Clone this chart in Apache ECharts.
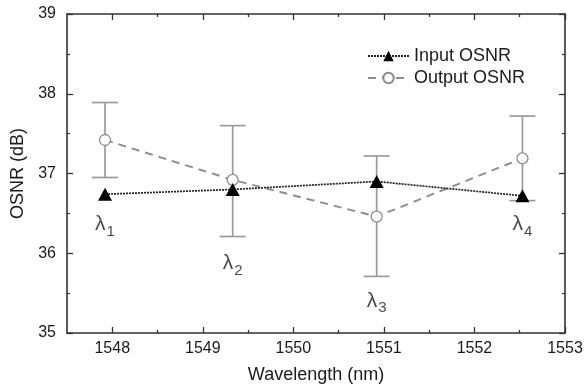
<!DOCTYPE html>
<html>
<head>
<meta charset="utf-8">
<script src="https://cdn.jsdelivr.net/npm/echarts@6/dist/echarts.min.js"></script>
<style>
  html, body { margin: 0; padding: 0; background: #fff; }
  #chart { width: 584px; height: 387px; }
</style>
</head>
<body>
<div id="chart"></div>
<script>
// values
const wavelengths = [1547.92, 1549.33, 1550.92, 1552.53];
const inputOsnr = [36.74, 36.80, 36.90, 36.72];
const outputOsnr = [37.42, 36.92, 36.46, 37.19];
const outputHigh = [37.89, 37.60, 37.22, 37.72];
const outputLow = [36.95, 36.21, 35.71, 36.66];
const channelIds = ['1', '2', '3', '4'];
const channelLabelY = [36.36, 35.87, 35.40, 36.36];
const xTicks = [1548, 1549, 1550, 1551, 1552, 1553];
const xMinorTicks = [1548.5, 1549.5, 1550.5, 1551.5, 1552.5];

const textColor = '#1a1a1a';
const axisColor = '#333';
const font = 'Liberation Sans, Arial, sans-serif';

const chart = echarts.init(document.getElementById('chart'));

const pairs = (xs, ys) => xs.map((x, i) => [x, ys[i]]);

const axisLine = { show: true, lineStyle: { color: axisColor, width: 1.6 } };
const majorTick = { show: true, inside: true, length: 6, lineStyle: { color: axisColor, width: 1.3 } };
const minorTick = { show: true, splitNumber: 2, length: 3, lineStyle: { color: axisColor, width: 1.3 } };

// one bare x axis per tick set (major / minor) at a given side
const xTickAxis = (position, values, length, withLine) => ({
  type: 'value', position: position, min: 1547.5, max: 1553,
  axisLine: withLine ? axisLine : { show: false },
  axisTick: Object.assign({}, majorTick, { length: length, customValues: values }),
  axisLabel: { show: false }, splitLine: { show: false }
});

const option = {
  animation: false,
  textStyle: { fontFamily: font },
  grid: { left: 67, right: 19, top: 14, bottom: 54, outerBoundsMode: 'none', containLabel: false },
  legend: {
    data: ['Input OSNR', 'Output OSNR'],
    orient: 'vertical',
    left: 362,
    top: 42,
    itemWidth: 41,
    itemHeight: 13,
    itemGap: 4,
    textStyle: { fontSize: 18, color: textColor, fontFamily: font }
  },
  xAxis: [
    {
      type: 'value', min: 1547.5, max: 1553,
      name: 'Wavelength (nm)', nameLocation: 'middle', nameGap: 33,
      nameTextStyle: { fontSize: 18, color: textColor },
      axisLine: axisLine,
      axisTick: Object.assign({}, majorTick, { customValues: xTicks }),
      axisLabel: { fontSize: 16, color: textColor, margin: 8,
        customValues: xTicks, formatter: v => String(v) },
      splitLine: { show: false }
    },
    xTickAxis('bottom', xMinorTicks, 3, false),
    xTickAxis('top', xTicks, 6, true),
    xTickAxis('top', xMinorTicks, 3, false)
  ],
  yAxis: [
    {
      type: 'value', min: 35, max: 39, interval: 1,
      name: 'OSNR (dB)', nameLocation: 'middle', nameGap: 39,
      nameTextStyle: { fontSize: 18, color: textColor },
      axisLine: axisLine, axisTick: majorTick, minorTick: minorTick,
      axisLabel: { fontSize: 16, color: textColor, margin: 11 },
      splitLine: { show: false }
    },
    {
      type: 'value', position: 'right', min: 35, max: 39, interval: 1,
      axisLine: axisLine, axisTick: majorTick, minorTick: minorTick,
      axisLabel: { show: false }, splitLine: { show: false }
    }
  ],
  series: [
    {
      name: 'Output error',
      type: 'custom',
      z: 1,
      data: wavelengths.map((x, i) => [x, outputLow[i], outputHigh[i]]),
      renderItem: (params, api) => {
        const top = api.coord([api.value(0), api.value(2)]);
        const bot = api.coord([api.value(0), api.value(1)]);
        const half = 13;
        const style = { stroke: '#9a9a9a', lineWidth: 1.7 };
        return {
          type: 'group',
          children: [
            { type: 'line', shape: { x1: top[0], y1: top[1], x2: bot[0], y2: bot[1] }, style },
            { type: 'line', shape: { x1: top[0] - half, y1: top[1], x2: top[0] + half, y2: top[1] }, style },
            { type: 'line', shape: { x1: bot[0] - half, y1: bot[1], x2: bot[0] + half, y2: bot[1] }, style }
          ]
        };
      }
    },
    {
      name: 'Output OSNR',
      type: 'line',
      z: 2,
      data: pairs(wavelengths, outputOsnr),
      symbol: 'circle',
      symbolSize: 11,
      itemStyle: { color: '#fff', borderColor: '#8c8c8c', borderWidth: 1.3 },
      lineStyle: { color: '#8c8c8c', width: 1.9, type: [8, 6] }
    },
    {
      name: 'Input OSNR',
      type: 'line',
      z: 3,
      data: pairs(wavelengths, inputOsnr),
      symbol: 'triangle',
      symbolSize: [14, 13],
      itemStyle: { color: '#000' },
      lineStyle: { color: '#222', width: 1.7, type: [2, 1] }
    },
    {
      name: 'Channels',
      type: 'scatter',
      symbolSize: 0,
      data: wavelengths.map((x, i) => ({ value: [x, channelLabelY[i]], id: channelIds[i] })),
      label: {
        show: true,
        position: 'inside',
        formatter: p => '{l|λ}{s|' + p.data.id + '}',
        rich: {
          l: { fontSize: 21, color: textColor, fontFamily: font },
          s: { fontSize: 15, color: textColor, fontFamily: font, padding: [14, 0, 0, 1] }
        }
      }
    }
  ]
};

chart.setOption(option);
</script>
</body>
</html>
